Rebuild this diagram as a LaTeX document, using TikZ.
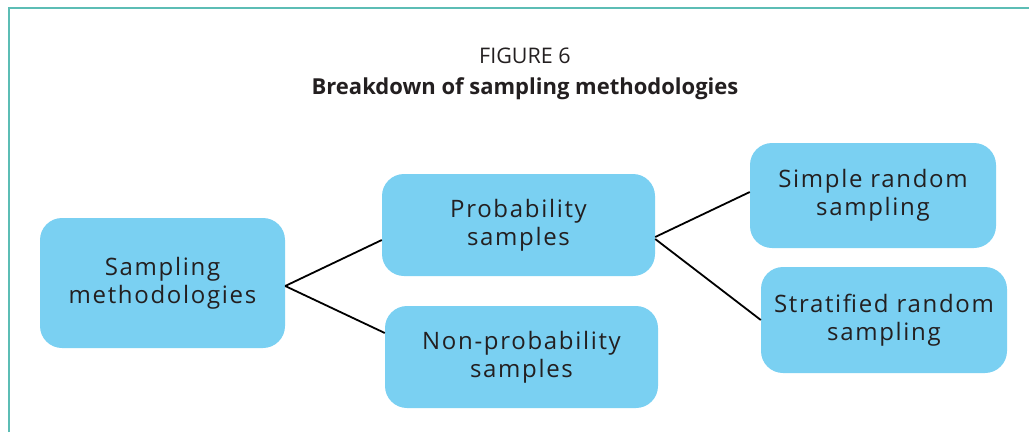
\documentclass[tikz,border=0pt]{standalone}
\usepackage{fontspec}
\setmainfont{Open Sans}
\newfontfamily\boxfont[LetterSpace=7]{Open Sans}
\definecolor{boxblue}{RGB}{122,208,242}
\definecolor{frameteal}{RGB}{92,189,181}
\definecolor{inkgray}{RGB}{35,31,32}
\begin{document}
\begin{tikzpicture}[x=1pt,y=-1pt,
  catbox/.style={draw=none, fill=boxblue, rounded corners=22pt, align=center,
    text=inkgray, font=\boxfont\fontsize{24}{28}\selectfont, inner sep=0pt},
  link/.style={draw=black, line width=1.8pt}]
  \useasboundingbox (0,0) rectangle (1029,432);
  % frame
  \draw[frameteal, line width=2pt] (9,432) -- (9,8) -- (1029,8);
  % title
  \node[text=inkgray, font=\fontsize{21.5}{26}\selectfont] (fig) at (525,56) {FIGURE 6};
  \node[text=inkgray, font=\fontsize{22}{26}\selectfont\bfseries] (ttl) at (525,89) {Breakdown of sampling methodologies};
  % boxes
  \node[catbox, minimum width=245pt, minimum height=130pt] (sm) at (162.5,283) {Sampling\\methodologies};
  \node[catbox, minimum width=273pt, minimum height=102pt] (pb) at (518.5,225) {Probability\\samples};
  \node[catbox, minimum width=273pt, minimum height=102pt] (np) at (521.5,357) {Non-probability\\samples};
  \node[catbox, minimum width=246pt, minimum height=105pt] (sr) at (873,195.5) {Simple random\\sampling};
  \node[catbox, minimum width=246pt, minimum height=106pt] (st) at (884,320) {Stratified random\\sampling};
  % connectors
  \draw[link] ([yshift=-3pt]sm.east) -- ([yshift=-15pt]pb.west);
  \draw[link] ([yshift=-3pt]sm.east) -- ([yshift=24pt]np.west);
  \draw[link] ([yshift=-12pt]pb.east) -- ([yshift=3.5pt]sr.west);
  \draw[link] ([yshift=-14pt]pb.east) -- (st.west);
\end{tikzpicture}
\end{document}
